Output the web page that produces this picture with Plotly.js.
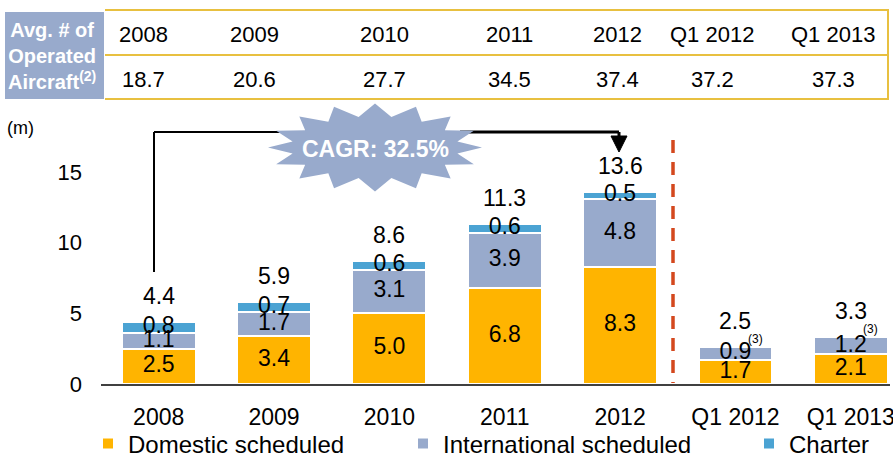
<!DOCTYPE html>
<html>
<head>
<meta charset="utf-8">
<script src="https://cdn.plot.ly/plotly-3.0.1.min.js"></script>
<style>html,body{margin:0;padding:0;background:#fff;}#chart{width:893px;height:458px;}</style>
</head>
<body>
<div id="chart"></div>
<script>
// ---- data ----
var categories = ["2008", "2009", "2010", "2011", "2012", "Q1 2012", "Q1 2013"];
var domestic = [2.5, 3.4, 5.0, 6.8, 8.3, 1.7, 2.1];
var international = [1.1, 1.7, 3.1, 3.9, 4.8, 0.9, 1.2];
var charter = [0.8, 0.7, 0.6, 0.6, 0.5, 0, 0];
var totals = [4.4, 5.9, 8.6, 11.3, 13.6, 2.5, 3.3];
var aircraft = [18.7, 20.6, 27.7, 34.5, 37.4, 37.2, 37.3];
var footnoteCats = ["Q1 2012", "Q1 2013"];
var yTicks = [0, 5, 10, 15];

// ---- layout helpers ----
var W = 893, H = 458, ML = 101, MR = 3, MT = 120, MB = 74;
var PW = W - ML - MR, PH = H - MT - MB;
function px(p) { return (p - ML) / PW; }
function py(p) { return (H - MB - p) / PH; }

var FONT = "Liberation Sans, Arial, sans-serif";
var C_DOM = "#FFB400", C_INT = "#98AACC", C_CH = "#4BA3D3";

function fmt(v) { return v > 0 ? v.toFixed(1) : ""; }

var traces = [
  {type: "bar", name: "Domestic scheduled", x: categories, y: domestic, legend: "legend",
   marker: {color: C_DOM, line: {color: "#fff", width: 2}}, hoverinfo: "skip"},
  {type: "bar", name: "International scheduled", x: categories, y: international, legend: "legend2",
   marker: {color: C_INT, line: {color: "#fff", width: 2}}, hoverinfo: "skip"},
  {type: "bar", name: "Charter", x: categories, y: charter, legend: "legend3",
   marker: {color: C_CH, line: {color: "#fff", width: 2}}, hoverinfo: "skip"}
];

// segment labels (centred in each segment); zero segments get no label
var domMid = domestic.map(function (d) { return d > 0 ? d / 2 : null; });
var intMid = international.map(function (v, i) { return v > 0 ? domestic[i] + v / 2 : null; });
var chMid = charter.map(function (v, i) { return v > 0 ? domestic[i] + international[i] + v / 2 : null; });
[[domMid, domestic], [intMid, international], [chMid, charter]].forEach(function (p) {
  var xs = [], ys = [], ts = [];
  p[0].forEach(function (y, i) {
    if (y !== null) { xs.push(categories[i]); ys.push(y); ts.push(fmt(p[1][i])); }
  });
  traces.push({type: "scatter", mode: "text", x: xs, y: ys,
    text: ts, textposition: "middle center",
    textfont: {family: FONT, size: 23, color: "#000"},
    showlegend: false, hoverinfo: "skip", cliponaxis: false});
});

var annotations = [];
// totals above stacks (x given as category index so "2008" is not read as a number)
categories.forEach(function (c, i) {
  var top = domestic[i] + international[i] + charter[i];
  annotations.push({x: i, y: top, xref: "x", yref: "y", text: totals[i].toFixed(1),
    showarrow: false, yanchor: "bottom", yshift: 11,
    font: {family: FONT, size: 23, color: "#000"}});
});
footnoteCats.forEach(function (c) {
  var i = categories.indexOf(c);
  var top = domestic[i] + international[i] + charter[i];
  annotations.push({x: i, y: top, xref: "x", yref: "y", text: "(3)",
    showarrow: false, xshift: 20, yshift: 8,
    font: {family: FONT, size: 12, color: "#000"}});
});

// table
var colX = [143, 254, 384, 509, 617, 712, 833];
categories.forEach(function (c, i) {
  annotations.push({xref: "paper", yref: "paper", x: px(colX[i]), y: py(34.5), text: c,
    showarrow: false, xanchor: "center", yanchor: "middle",
    font: {family: FONT, size: 22, color: "#000"}});
  annotations.push({xref: "paper", yref: "paper", x: px(colX[i]), y: py(79.5), text: aircraft[i].toFixed(1),
    showarrow: false, xanchor: "center", yanchor: "middle",
    font: {family: FONT, size: 22, color: "#000"}});
});
annotations.push({xref: "paper", yref: "paper", x: px(52), y: py(56), showarrow: false,
  xanchor: "center", yanchor: "middle", align: "center",
  text: "Avg. # of<br>Operated<br>Aircraft<sup>(2)</sup>",
  font: {family: FONT, size: 20, color: "#fff", weight: "bold"}});
annotations.push({xref: "paper", yref: "paper", x: px(5), y: py(128), showarrow: false,
  xanchor: "left", yanchor: "middle", text: "(m)",
  font: {family: FONT, size: 18, color: "#000"}});
annotations.push({xref: "paper", yref: "paper", x: px(375), y: py(149), showarrow: false,
  xanchor: "center", yanchor: "middle", text: "CAGR: 32.5%",
  font: {family: FONT, size: 23, color: "#fff", weight: "bold"}});

// shapes
var GOLD = "#E8C040";
var shapes = [
  {type: "rect", xref: "paper", yref: "paper", x0: px(5), x1: px(104), y0: py(99), y1: py(12),
   fillcolor: "#98AACC", line: {width: 0}, layer: "below"},
  {type: "line", xref: "paper", yref: "paper", x0: px(105), x1: px(889), y0: py(10), y1: py(10), line: {color: GOLD, width: 2}},
  {type: "line", xref: "paper", yref: "paper", x0: px(105), x1: px(889), y0: py(55), y1: py(55), line: {color: GOLD, width: 2}},
  {type: "line", xref: "paper", yref: "paper", x0: px(105), x1: px(889), y0: py(99), y1: py(99), line: {color: GOLD, width: 2}},
  {type: "line", xref: "paper", yref: "paper", x0: px(888), x1: px(888), y0: py(10), y1: py(99), line: {color: GOLD, width: 2}},
  // divider
  {type: "line", xref: "paper", yref: "paper", x0: px(673), x1: px(673), y0: py(140), y1: py(383),
   line: {color: "#D4481E", width: 3.5, dash: "13px,9px"}},
  // bracket
  {type: "line", xref: "paper", yref: "paper", x0: px(154), x1: px(154), y0: py(272), y1: py(132), line: {color: "#000", width: 2}},
  {type: "line", xref: "paper", yref: "paper", x0: px(154), x1: px(290), y0: py(132), y1: py(132), line: {color: "#000", width: 2}},
  {type: "line", xref: "paper", yref: "paper", x0: px(460), x1: px(619), y0: py(132), y1: py(132), line: {color: "#000", width: 3}},
  {type: "line", xref: "paper", yref: "paper", x0: px(619), x1: px(619), y0: py(132), y1: py(137), line: {color: "#000", width: 3}},
  {type: "path", xref: "paper", yref: "paper",
   path: "M" + px(611) + "," + py(136) + " L" + px(627) + "," + py(136) + " L" + px(619) + "," + py(152) + " Z",
   fillcolor: "#000", line: {color: "#000", width: 1}}
];
// starburst
(function () {
  var cx = 375, cy = 147.5, n = 16, rxo = 107, ryo = 44, rxi = 84, ryi = 31;
  var d = "";
  for (var k = 0; k < 2 * n; k++) {
    var a = Math.PI * k / n;
    var outer = k % 2 === 0;
    var xx = cx - (outer ? rxo : rxi) * Math.cos(a);
    var yy = cy - (outer ? ryo : ryi) * Math.sin(a);
    d += (k === 0 ? "M" : " L") + px(xx) + "," + py(yy);
  }
  d += " Z";
  shapes.push({type: "path", xref: "paper", yref: "paper", path: d,
    fillcolor: "#98AACC", line: {width: 0}});
})();

function legendAt(xpx) {
  return {orientation: "h", x: px(xpx), y: py(444), xanchor: "left", yanchor: "middle",
    font: {family: FONT, size: 24, color: "#000"}, bgcolor: "rgba(0,0,0,0)", borderwidth: 0};
}

var layout = {
  width: W, height: H,
  margin: {l: ML, r: MR, t: MT, b: MB, pad: 0, autoexpand: false},
  paper_bgcolor: "#fff", plot_bgcolor: "#fff",
  barmode: "stack", bargap: 0.36,
  font: {family: FONT, size: 23, color: "#000"},
  xaxis: {type: "category", categoryorder: "array", categoryarray: categories,
    range: [-0.5, 6.34], showline: true, linecolor: "#404040", linewidth: 2,
    ticks: "", showgrid: false, zeroline: false, ticklabelstandoff: 11, automargin: false,
    tickfont: {family: FONT, size: 23, color: "#000"}},
  yaxis: {range: [0, PH / 14.13], tickmode: "array", tickvals: yTicks, automargin: false,
    showline: false, showgrid: false, zeroline: false, ticks: "",
    ticklabelstandoff: 18, tickfont: {family: FONT, size: 22, color: "#000"}},
  showlegend: true,
  legend: legendAt(88),
  legend2: legendAt(403),
  legend3: legendAt(749),
  shapes: shapes,
  annotations: annotations
};

Plotly.newPlot("chart", traces, layout, {displayModeBar: false, staticPlot: true});
</script>
</body>
</html>
